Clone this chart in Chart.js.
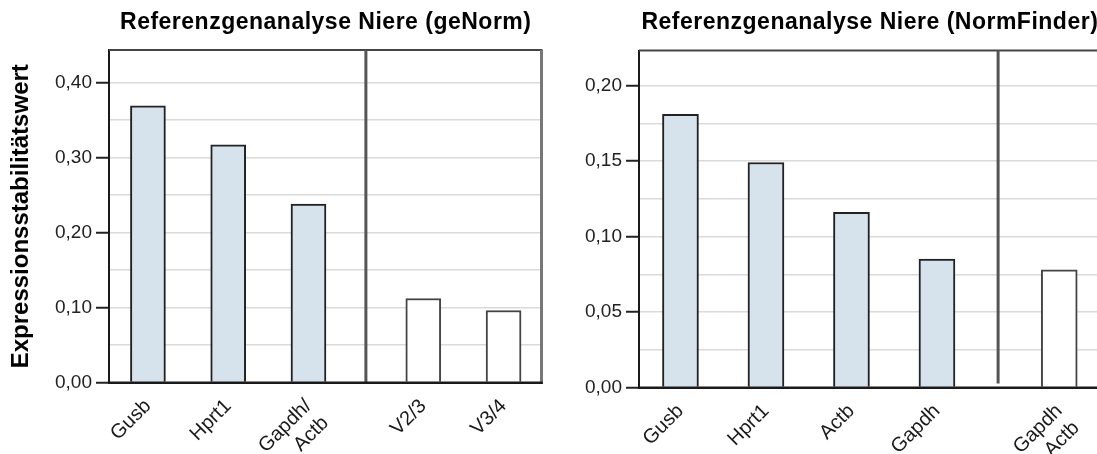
<!DOCTYPE html>
<html>
<head>
<meta charset="utf-8">
<script src="https://cdn.jsdelivr.net/npm/chart.js@4/dist/chart.umd.min.js"></script>
<style>
  html, body { margin: 0; padding: 0; background: #fff; overflow: hidden; }
  #wrap { position: relative; width: 1097px; height: 454px; overflow: hidden; }
  canvas { position: absolute; top: 0; }
  #geNorm { left: 0; }
  #normFinder { left: 560px; }
</style>
</head>
<body>
<div id="wrap">
  <canvas id="geNorm" width="560" height="454"></canvas>
  <canvas id="normFinder" width="560" height="454"></canvas>
</div>
<script>
// geNorm panel: stability values (M) and pairwise variations V
const geNormTitle = 'Referenzgenanalyse Niere (geNorm)';
const geNormLabels = ['Gusb', 'Hprt1', ['Gapdh/', 'Actb'], 'V2/3', 'V3/4'];
const geNormValues = [0.369, 0.317, 0.238, 0.112, 0.096];
const geNormGroups = [0, 0, 0, 1, 1];
const geNormTickValues = [0.00, 0.10, 0.20, 0.30, 0.40];
const geNormTickLabels = ['0,00', '0,10', '0,20', '0,30', '0,40'];

// NormFinder panel: stability values and best combination
const normFinderTitle = 'Referenzgenanalyse Niere (NormFinder)';
const normFinderLabels = ['Gusb', 'Hprt1', 'Actb', 'Gapdh', ['Gapdh', '+ Actb']];
const normFinderValues = [0.181, 0.149, 0.116, 0.085, 0.078];
const normFinderGroups = [0, 0, 0, 0, 1];
const normFinderTickValues = [0.00, 0.05, 0.10, 0.15, 0.20];
const normFinderTickLabels = ['0,00', '0,05', '0,10', '0,15', '0,20'];

const yAxisTitle = 'Expressionsstabilitätswert';

const FONT = "'Liberation Sans', Arial, sans-serif";
const GENE_FILL = 'rgb(214,226,236)';
const GROUP_GAP = 0.43;   // extra space between the two bar groups (in category units)
const SIDE_PAD = 0.485;   // space between the frame and the outer bars

// frame lines, group divider and panel title
const panelDecor = {
  id: 'panelDecor',
  afterDraw(chart, args, opts) {
    const { ctx, chartArea: a, scales } = chart;
    ctx.save();
    ctx.lineCap = 'butt';
    // top edge
    ctx.strokeStyle = '#444';
    ctx.lineWidth = 2;
    ctx.beginPath();
    ctx.moveTo(a.left, a.top);
    ctx.lineTo(a.right, a.top);
    ctx.stroke();
    // right edge
    ctx.strokeStyle = '#777';
    ctx.lineWidth = 3;
    ctx.beginPath();
    ctx.moveTo(a.right - 1, a.top);
    ctx.lineTo(a.right - 1, a.bottom);
    ctx.stroke();
    // divider between genes and combined values
    const xd = scales.x.getPixelForValue(opts.divider);
    ctx.strokeStyle = '#555';
    ctx.lineWidth = 3;
    ctx.beginPath();
    ctx.moveTo(xd, a.top);
    ctx.lineTo(xd, a.bottom - opts.dividerGap);
    ctx.stroke();
    // x axis line over the bar bottoms
    ctx.strokeStyle = '#1a1a1a';
    ctx.lineWidth = 2;
    ctx.beginPath();
    ctx.moveTo(a.left, a.bottom);
    ctx.lineTo(a.right, a.bottom);
    ctx.stroke();
    // panel title
    ctx.fillStyle = '#000';
    ctx.font = "bold 23px " + FONT;
    ctx.letterSpacing = '0.5px';
    ctx.textAlign = 'center';
    ctx.textBaseline = 'middle';
    ctx.fillText(opts.title, (a.left + a.right) / 2, 23);
    ctx.restore();
  }
};

function makePanel(id, p) {
  const positions = p.values.map((_, i) => i + p.groups[i] * GROUP_GAP);
  const lastGene = p.groups.lastIndexOf(0);
  const divider = (positions[lastGene] + positions[lastGene + 1]) / 2;
  const step = p.tickValues[1] - p.tickValues[0];
  const gridValues = [];
  p.tickValues.forEach(v => {
    gridValues.push(v);
    if (v + step / 2 <= p.yMax) gridValues.push(v + step / 2);
  });
  const isMajor = v => p.tickValues.some(t => Math.abs(t - v) < 1e-9);
  const canvas = document.getElementById(id);

  return new Chart(canvas, {
    type: 'bar',
    data: {
      datasets: [{
        data: positions.map((x, i) => ({ x: x, y: p.values[i] })),
        backgroundColor: p.groups.map(g => g === 0 ? GENE_FILL : '#ffffff'),
        borderColor: p.groups.map(g => g === 0 ? '#222' : '#444'),
        borderWidth: 2,
        borderSkipped: 'start',
        barThickness: p.barThickness
      }]
    },
    options: {
      responsive: false,
      animation: false,
      devicePixelRatio: 1,
      layout: { padding: { top: p.plotTop, right: canvas.width - p.plotRight, left: 0, bottom: 0 } },
      plugins: {
        legend: { display: false },
        tooltip: { enabled: false },
        panelDecor: { title: p.title, divider: divider, dividerGap: p.dividerGap }
      },
      scales: {
        x: {
          type: 'linear',
          offset: false,
          min: positions[0] - SIDE_PAD,
          max: positions[positions.length - 1] + SIDE_PAD,
          grid: { display: false, drawTicks: false, offset: false },
          border: { display: true, color: '#1a1a1a', width: 2 },
          afterBuildTicks: s => { s.ticks = positions.map(v => ({ value: v })); },
          afterFit: s => { s.height = canvas.height - p.plotBottom; s.paddingLeft = 0; s.paddingRight = 0; },
          ticks: {
            autoSkip: false,
            minRotation: 45,
            maxRotation: 45,
            padding: 12,
            color: '#1a1a1a',
            font: { family: FONT, size: 20 },
            callback: (v, i) => p.labels[i]
          }
        },
        y: {
          min: 0,
          max: p.yMax,
          afterBuildTicks: s => { s.ticks = gridValues.map(v => ({ value: v })); },
          afterFit: s => { s.width = p.plotLeft; s.paddingTop = 0; s.paddingBottom = 0; },
          grid: {
            color: '#dadada',
            lineWidth: 1.5,
            tickLength: 13,
            tickWidth: 2,
            tickColor: c => isMajor(c.tick.value) ? '#222' : 'rgba(0,0,0,0)'
          },
          border: { display: true, color: '#1a1a1a', width: 2 },
          ticks: {
            padding: 4,
            color: '#222',
            font: { family: FONT, size: 19 },
            callback: v => {
              const k = p.tickValues.findIndex(t => Math.abs(t - v) < 1e-9);
              return k >= 0 ? p.tickLabels[k] : '';
            }
          },
          title: {
            display: !!p.yTitle,
            text: p.yTitle || '',
            color: '#000',
            font: { family: FONT, size: 24, weight: 'bold' },
            padding: { top: 7, bottom: 0 }
          }
        }
      }
    },
    plugins: [panelDecor]
  });
}

makePanel('geNorm', {
  title: geNormTitle, labels: geNormLabels, values: geNormValues, groups: geNormGroups,
  tickValues: geNormTickValues, tickLabels: geNormTickLabels, yTitle: yAxisTitle,
  yMax: 0.4433, plotLeft: 109, plotRight: 542.5, plotTop: 50, plotBottom: 382.5,
  barThickness: 35, dividerGap: 0
});

makePanel('normFinder', {
  title: normFinderTitle, labels: normFinderLabels, values: normFinderValues, groups: normFinderGroups,
  tickValues: normFinderTickValues, tickLabels: normFinderTickLabels, yTitle: null,
  yMax: 0.2232, plotLeft: 79, plotRight: 540.7, plotTop: 50.5, plotBottom: 387.5,
  barThickness: 36, dividerGap: 4
});
</script>
</body>
</html>
